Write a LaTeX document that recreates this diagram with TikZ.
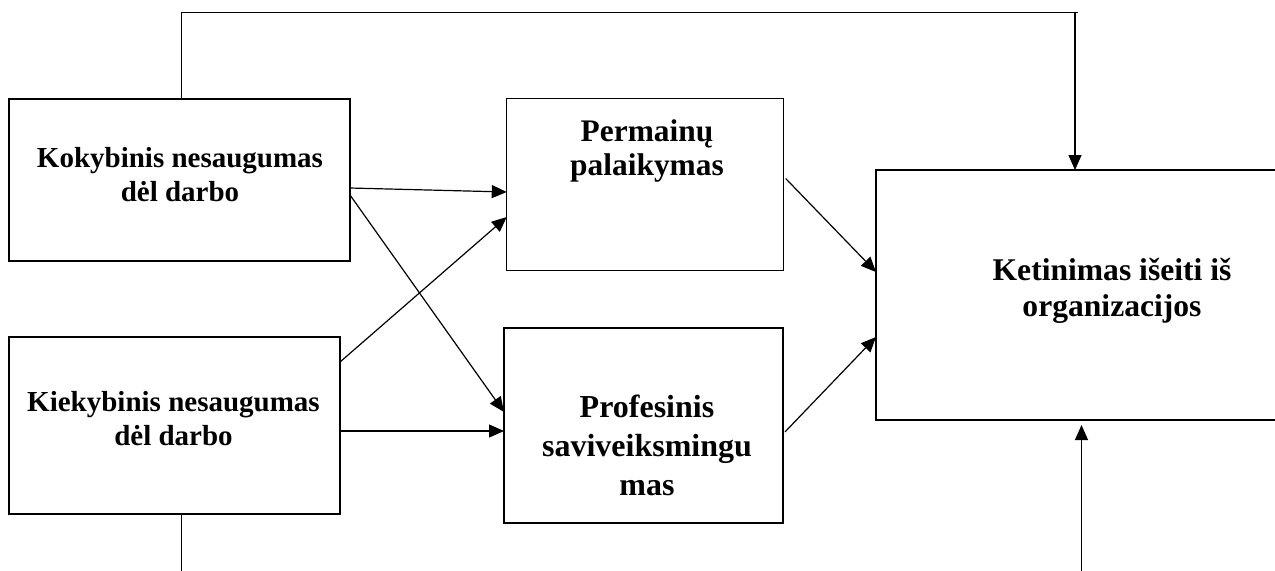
\documentclass[tikz,border=0pt]{standalone}
\usepackage{fontspec}
\setmainfont{Liberation Serif}
\usepackage{tikz}
\usetikzlibrary{arrows.meta}
\tikzset{%
  >={Triangle[width=6.5pt, length=7.5pt]}, % filled arrow heads as in the scheme
  % plain rectangle of a block
  blockbox/.style={rectangle, draw, line width=0.7pt, inner sep=0pt, outer sep=0pt},
  % bold captions, two sizes (anchor base = baseline of the last line)
  smalltext/.style={align=center, anchor=base, inner sep=0pt, font=\bfseries\fontsize{14.5pt}{17pt}\selectfont},
  largetext/.style={align=center, anchor=base, inner sep=0pt, font=\bfseries\fontsize{15.8pt}{18pt}\selectfont},
  plainline/.style={line width=0.6pt},
  link/.style={->, line width=0.6pt},
}

\begin{document}
\begin{tikzpicture}[x=0.5pt, y=-0.5pt]
  \useasboundingbox (0,0) rectangle (1275,570);

  % blocks
  \node[blockbox, minimum width=170.5pt, minimum height=81pt] (kokybinis) at (179.5,180) {};
  \node[blockbox, minimum width=165.5pt, minimum height=88.5pt] (kiekybinis) at (174.5,425.5) {};
  \node[blockbox, minimum width=138.25pt, minimum height=86pt] (permainos) at (645,184.7) {};
  \node[blockbox, minimum width=139.5pt, minimum height=97.5pt] (profesinis) at (643.5,425.3) {};
  \node[blockbox, minimum width=236pt, minimum height=125pt] (ketinimas) at (1112,295) {};

  % captions
  \node[smalltext] (kokybinis-txt) at (180,201.7) {Kokybinis nesaugumas\\dėl darbo};
  \node[smalltext] (kiekybinis-txt) at (173.5,445) {Kiekybinis nesaugumas\\dėl darbo};
  \node[largetext, font=\bfseries\fontsize{15.7pt}{17pt}\selectfont] (permainos-txt) at (647,175) {Permainų\\palaikymas};
  \node[largetext, font=\bfseries\fontsize{16pt}{19.5pt}\selectfont] (profesinis-txt) at (647,495) {Profesinis\\saviveiksmingu\\mas};
  \node[largetext] (ketinimas-txt) at (1112,316) {Ketinimas išeiti iš\\organizacijos};

  % links between the blocks
  \draw[link] (kokybinis.east |- 0,188) -- (permainos.west |- 0,192);
  \draw[link] (kokybinis.east |- 0,195) -- (profesinis.west |- 0,412);
  \draw[link] (kiekybinis.east |- 0,362) -- (permainos.west |- 0,217);
  \draw[link] (kiekybinis.east |- 0,431) -- (profesinis.west |- 0,431);
  \draw[link, shorten <=1.75pt] (permainos.east |- 0,176) -- (ketinimas.west |- 0,272);
  \draw[link, shorten <=1.5pt] (profesinis.east |- 0,434) -- (ketinimas.west |- 0,337);

  % outer lines
  \coordinate (topbus) at (1078,12.5);
  \coordinate (topdrop) at (1075,12.5);
  \draw[plainline] ([xshift=1pt]kokybinis.north) |- (topbus);
  \draw[link] (topdrop) -- (topdrop |- ketinimas.north);
  \coordinate (bottomleft) at (181.5,575);
  \coordinate (bottomright) at (1081.5,575);
  \draw[plainline] (kiekybinis.south -| bottomleft) -- (bottomleft);
  \draw[link, shorten >=2.5pt] (bottomright) -- (bottomright |- ketinimas.south);
\end{tikzpicture}
\end{document}
